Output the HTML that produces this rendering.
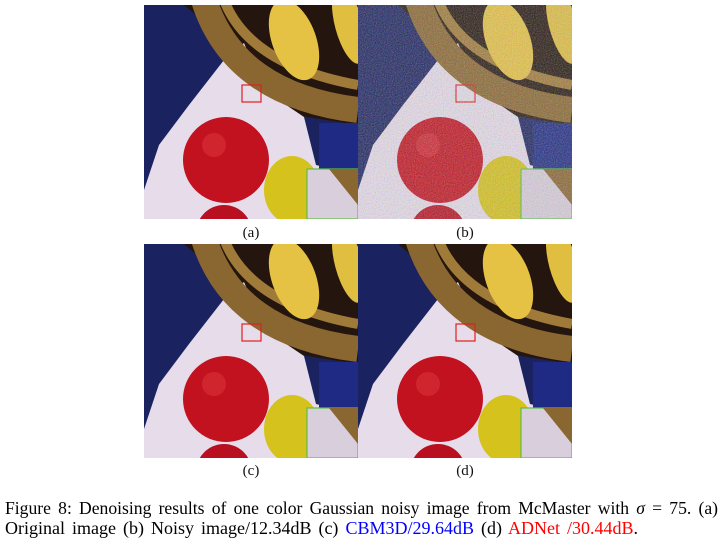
<!DOCTYPE html>
<html><head><meta charset="utf-8"><style>
html,body{margin:0;padding:0;background:#fff;width:724px;height:542px;overflow:hidden;position:relative;font-family:"Liberation Serif",serif}
.lbl{position:absolute;font-size:15px;color:#111;width:60px;text-align:center}
.cap{position:absolute;left:5px;font-size:17.6px;color:#000;white-space:nowrap}
</style></head><body>
<svg width="724" height="542" style="position:absolute;left:0;top:0">
<defs>
<symbol id="scene" viewBox="0 0 214 214">
<rect width="214" height="214" fill="#1b2260"/>
<path d="M40 0 L214 0 L214 120 L150 110 L110 60 Z" fill="#24160e"/>
<path d="M0 214 L0 185 L15 140 L45 100 L80 55 L100 38 L120 85 L160 112 L172 160 L214 170 L214 214 Z" fill="#e6dcea"/>
<rect x="175" y="118" width="39" height="50" fill="#1e2a84"/>
<path d="M60 -5 Q90 90 214 105" fill="none" stroke="#8a6630" stroke-width="26"/>
<path d="M80 -5 Q105 60 214 80" fill="none" stroke="#a07a38" stroke-width="10"/>
<ellipse cx="150" cy="35" rx="22" ry="42" transform="rotate(-20 150 35)" fill="#e6c244"/>
<ellipse cx="205" cy="20" rx="14" ry="40" transform="rotate(-15 205 20)" fill="#e0be40"/>
<circle cx="82" cy="155" r="43" fill="#c2121f"/>
<circle cx="70" cy="140" r="12" fill="#d8303a" opacity=".6"/>
<circle cx="80" cy="228" r="28" fill="#b81020"/>
<ellipse cx="148" cy="185" rx="28" ry="34" fill="#d6c21c"/>
<rect x="98" y="80" width="19" height="17" fill="none" stroke="#e02020" stroke-width="1.2"/>
<rect x="163" y="164" width="51" height="50" fill="#d8cedc" stroke="#5cc040" stroke-width="1.2"/>
<path d="M185 164 L214 200 L214 164 Z" fill="#8a6630"/>
</symbol>
<filter id="noise" x="0" y="0" width="100%" height="100%">
<feTurbulence type="fractalNoise" baseFrequency="0.9" numOctaves="1" seed="3"/>
<feColorMatrix values="1.4 0 0 0 -0.2 0 1.4 0 0 -0.2 0 0 1.4 0 -0.2 0 0 0 0.5 0"/>
</filter>
</defs>
<g><use href="#scene" x="144" y="5" width="214" height="214"/></g>
<g><use href="#scene" x="358" y="5" width="214" height="214"/>
<rect x="358" y="5" width="214" height="214" filter="url(#noise)"/></g>
<g><use href="#scene" x="144" y="244" width="214" height="214"/></g>
<g><use href="#scene" x="358" y="244" width="214" height="214"/></g>
</svg>
<div class="lbl" style="left:221px;top:225px">(a)</div>
<div class="lbl" style="left:435px;top:225px">(b)</div>
<div class="lbl" style="left:221px;top:463px">(c)</div>
<div class="lbl" style="left:435px;top:463px">(d)</div>
<div class="cap" style="top:498px;width:713px;text-align:justify;text-align-last:justify">Figure 8: Denoising results of one color Gaussian noisy image from McMaster with <i>σ</i> = 75. (a)</div>
<div class="cap" style="top:518px;font-size:18px;word-spacing:2.5px">Original image (b) Noisy image/12.34dB (c) <span style="color:#0000ff">CBM3D/29.64dB</span> (d) <span style="color:#ff0000">ADNet /30.44dB</span>.</div>
</body></html>
